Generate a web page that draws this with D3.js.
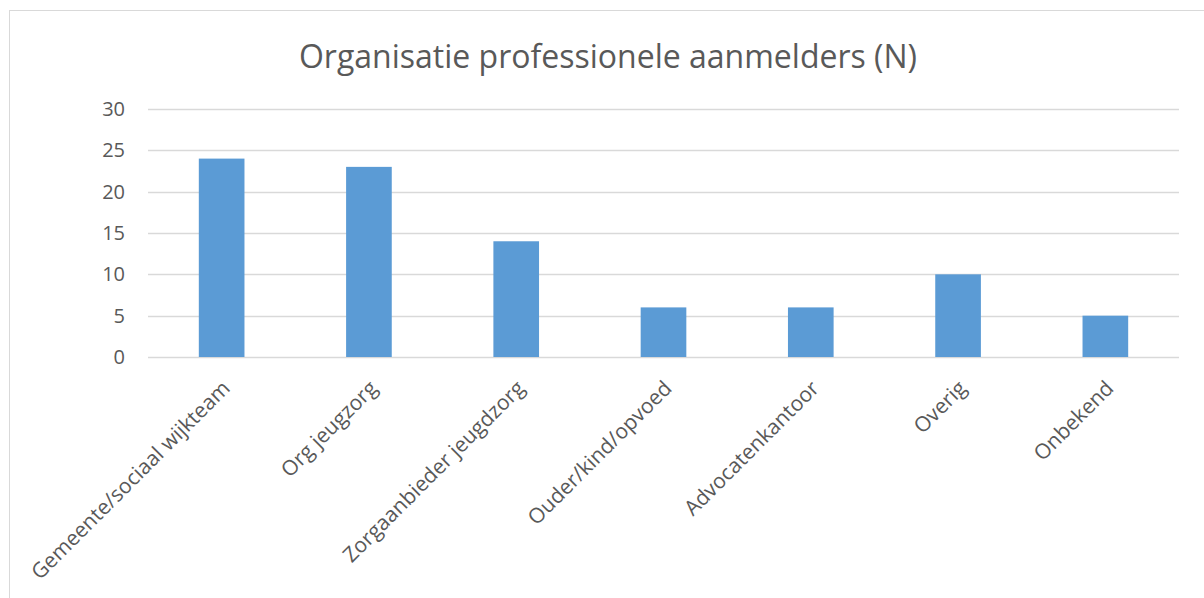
<!DOCTYPE html>
<html>
<head>
<meta charset="utf-8">
<script src="https://cdn.jsdelivr.net/npm/d3@7"></script>
<style>
  body { margin: 0; background: #fff; }
  text { font-family: "Open Sans", "Noto Sans", sans-serif; fill: #595959; }
</style>
</head>
<body>
<div id="chart"></div>
<script>
// Data
const categories = ['Gemeente/sociaal wijkteam', 'Org jeugzorg', 'Zorgaanbieder jeugdzorg',
    'Ouder/kind/opvoed', 'Advocatenkantoor', 'Overig', 'Onbekend'];
const values = [24, 23, 14, 6, 6, 10, 5];
const yTicks = [0, 5, 10, 15, 20, 25, 30];
const title = 'Organisatie professionele aanmelders (N)';

const W = 1204, H = 598;
const margin = {top: 109, right: 25, bottom: 241, left: 148};
const width = W - margin.left - margin.right;
const height = H - margin.top - margin.bottom;

const svg = d3.select('#chart').append('svg')
    .attr('width', W)
    .attr('height', H);

// chart border (only top/left are visible in the frame)
svg.append('rect')
    .attr('x', 9.5).attr('y', 10.5)
    .attr('width', W).attr('height', H)
    .attr('fill', 'none')
    .attr('stroke', '#d9d9d9');

svg.append('text')
    .attr('x', 608)
    .attr('y', 68)
    .attr('text-anchor', 'middle')
    .style('font-size', '32px')
    .text(title);

const g = svg.append('g')
    .attr('transform', `translate(${margin.left},${margin.top})`);

const x = d3.scaleBand()
    .domain(categories)
    .range([0, width])
    .paddingInner(0.69)
    .paddingOuter(0.345);

const y = d3.scaleLinear()
    .domain([0, 30])
    .range([height, 0]);

// gridlines
g.selectAll('.grid')
    .data(yTicks)
    .enter()
    .append('line')
    .attr('x1', 0)
    .attr('x2', width)
    .attr('y1', d => Math.round(y(d)) + 0.5)
    .attr('y2', d => Math.round(y(d)) + 0.5)
    .attr('stroke', '#d9d9d9')
    .attr('stroke-width', 1.5);

// y labels
g.selectAll('.ylab')
    .data(yTicks)
    .enter()
    .append('text')
    .attr('x', -23)
    .attr('y', d => y(d))
    .attr('dy', '0.35em')
    .attr('text-anchor', 'end')
    .style('font-size', '20px')
    .text(d => d);

// bars
g.selectAll('.bar')
    .data(values)
    .enter()
    .append('rect')
    .attr('x', (d, i) => x(categories[i]))
    .attr('y', d => y(d))
    .attr('width', x.bandwidth())
    .attr('height', d => y(0) - y(d))
    .attr('fill', '#5b9bd5');

// x labels
g.selectAll('.xlab')
    .data(categories)
    .enter()
    .append('text')
    .attr('transform', d => `translate(${x(d) + x.bandwidth() / 2 - 1},${height + 22}) rotate(-45)`)
    .attr('text-anchor', 'end')
    .attr('dy', '0.71em')
    .style('font-size', '21px')
    .text(d => d);
</script>
</body>
</html>
